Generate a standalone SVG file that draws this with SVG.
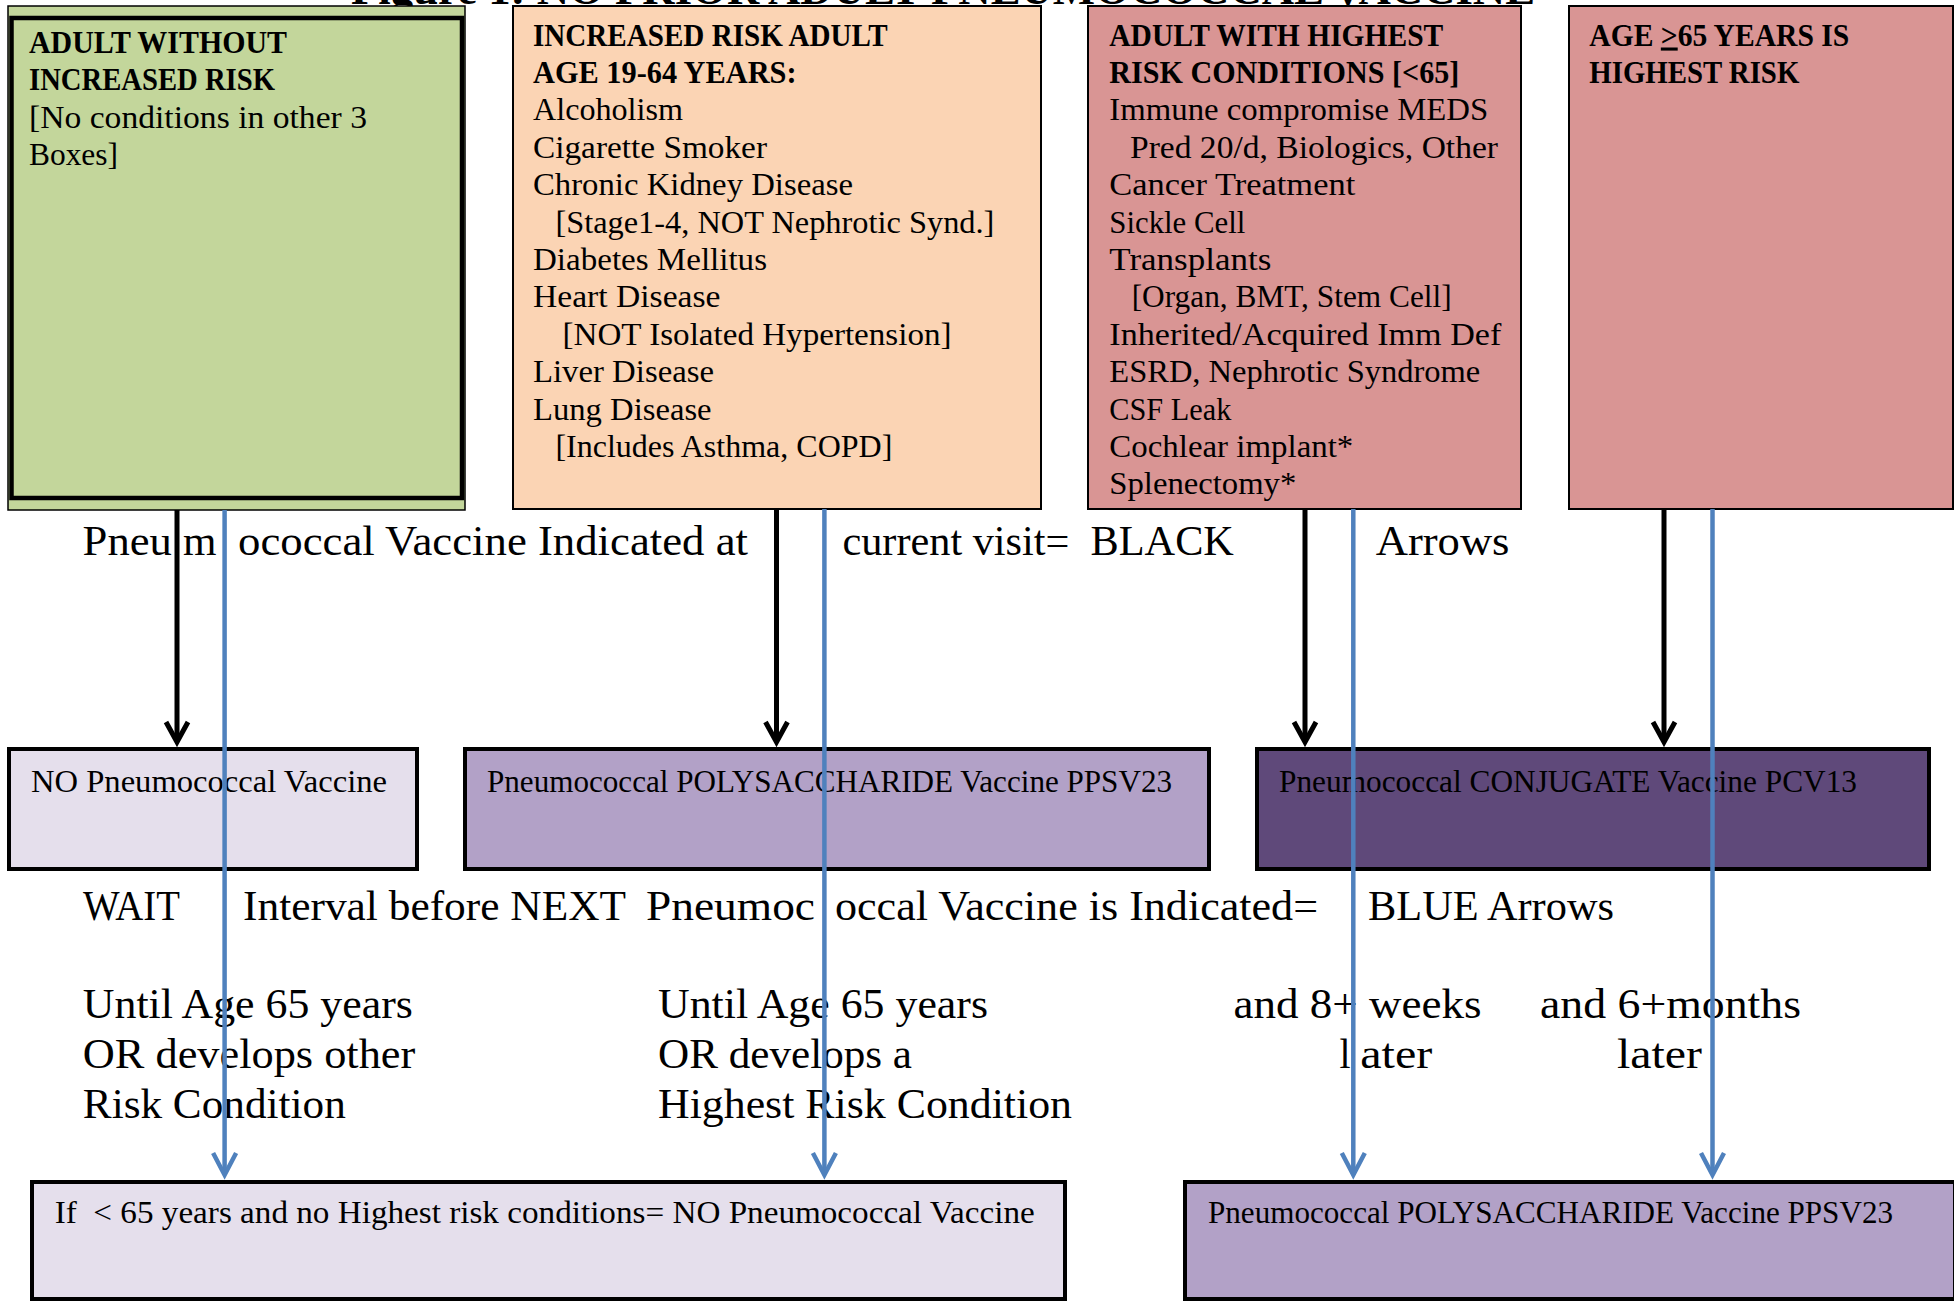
<svg xmlns="http://www.w3.org/2000/svg" width="1954" height="1302" viewBox="0 0 1954 1302">
<style>
  text { font-family: "Liberation Serif", "DejaVu Serif", serif; fill: #000; }
  .t { font-size: 31px; }
  .h { font-size: 31px; font-weight: bold; }
  .lg { font-size: 43px; }
  .ttl { font-size: 44px; font-weight: bold; }
  .pre { white-space: pre; }
  .thin { stroke: #000; stroke-width: 2; }
  .thick { stroke: #000; stroke-width: 4; }
  .blk { stroke: #000; stroke-width: 5; fill: none; }
  .blu { stroke: #4F81BD; stroke-width: 4.5; fill: none; }
</style>
<defs>
  <marker id="ahK" markerUnits="userSpaceOnUse" viewBox="-26 -15 32 30" markerWidth="32" markerHeight="30" refX="0" refY="0" orient="auto">
    <path d="M-20,-11 L0,0 L-20,11" fill="none" stroke="#000" stroke-width="5"/>
  </marker>
  <marker id="ahB" markerUnits="userSpaceOnUse" viewBox="-28 -15 34 30" markerWidth="34" markerHeight="30" refX="0" refY="0" orient="auto">
    <path d="M-22,-11.5 L0,0 L-22,11.5" fill="none" stroke="#4F81BD" stroke-width="4.5"/>
  </marker>
</defs>
<rect x="0" y="0" width="1954" height="1302" fill="#fff"/>

<text class="ttl" x="351" y="4" textLength="1184" lengthAdjust="spacingAndGlyphs">Figure 1: NO PRIOR ADULT PNEUMOCOCCAL VACCINE</text>

<g id="node-adult-without-risk">
  <rect x="8" y="6" width="457" height="504" fill="#C3D69B" stroke="#000" stroke-width="1.5"/>
  <rect x="11.5" y="18" width="450.5" height="480" fill="none" stroke="#000" stroke-width="4.5"/>
  <text class="h" x="29" y="53.3" textLength="258" lengthAdjust="spacingAndGlyphs">ADULT WITHOUT</text>
  <text class="h" x="29" y="90.3" textLength="246" lengthAdjust="spacingAndGlyphs">INCREASED RISK</text>
  <text class="t" x="29" y="127.5" textLength="338" lengthAdjust="spacingAndGlyphs">[No conditions in other 3</text>
  <text class="t" x="29" y="164.5" textLength="89" lengthAdjust="spacingAndGlyphs">Boxes]</text>
</g>

<g id="node-increased-risk">
  <rect x="513" y="6" width="528" height="503" fill="#FBD4B4" class="thin"/>
  <text class="h" x="533" y="45.5" textLength="354.6" lengthAdjust="spacingAndGlyphs">INCREASED RISK ADULT</text>
  <text class="h" x="533" y="82.9" textLength="263.6" lengthAdjust="spacingAndGlyphs">AGE 19-64 YEARS:</text>
  <text class="t" x="533" y="120.3" textLength="150" lengthAdjust="spacingAndGlyphs">Alcoholism</text>
  <text class="t" x="533" y="157.7" textLength="234" lengthAdjust="spacingAndGlyphs">Cigarette Smoker</text>
  <text class="t" x="533" y="195.1" textLength="320" lengthAdjust="spacingAndGlyphs">Chronic Kidney Disease</text>
  <text class="t" x="555.4" y="232.5" textLength="439" lengthAdjust="spacingAndGlyphs">[Stage1-4, NOT Nephrotic Synd.]</text>
  <text class="t" x="533" y="269.9" textLength="234" lengthAdjust="spacingAndGlyphs">Diabetes Mellitus</text>
  <text class="t" x="533" y="307.3" textLength="187.5" lengthAdjust="spacingAndGlyphs">Heart Disease</text>
  <text class="t" x="562.5" y="344.7" textLength="389" lengthAdjust="spacingAndGlyphs">[NOT Isolated Hypertension]</text>
  <text class="t" x="533" y="382.1" textLength="181" lengthAdjust="spacingAndGlyphs">Liver Disease</text>
  <text class="t" x="533" y="419.5" textLength="178.6" lengthAdjust="spacingAndGlyphs">Lung Disease</text>
  <text class="t" x="555.4" y="456.9" textLength="337" lengthAdjust="spacingAndGlyphs">[Includes Asthma, COPD]</text>
</g>

<g id="node-highest-risk">
  <rect x="1088" y="6" width="433" height="503" fill="#D99594" class="thin"/>
  <text class="h" x="1109.3" y="45.5" textLength="334" lengthAdjust="spacingAndGlyphs">ADULT WITH HIGHEST</text>
  <text class="h" x="1109.3" y="82.9" textLength="350" lengthAdjust="spacingAndGlyphs">RISK CONDITIONS [&lt;65]</text>
  <text class="t" x="1109.3" y="120.3" textLength="379" lengthAdjust="spacingAndGlyphs">Immune compromise MEDS</text>
  <text class="t" x="1130" y="157.7" textLength="368" lengthAdjust="spacingAndGlyphs">Pred 20/d, Biologics, Other</text>
  <text class="t" x="1109.3" y="195.1" textLength="246" lengthAdjust="spacingAndGlyphs">Cancer Treatment</text>
  <text class="t" x="1109.3" y="232.5" textLength="136" lengthAdjust="spacingAndGlyphs">Sickle Cell</text>
  <text class="t" x="1109.3" y="269.9" textLength="162" lengthAdjust="spacingAndGlyphs">Transplants</text>
  <text class="t" x="1131.7" y="307.3" textLength="320" lengthAdjust="spacingAndGlyphs">[Organ, BMT, Stem Cell]</text>
  <text class="t" x="1109.3" y="344.7" textLength="392" lengthAdjust="spacingAndGlyphs">Inherited/Acquired Imm Def</text>
  <text class="t" x="1109.3" y="382.1" textLength="371" lengthAdjust="spacingAndGlyphs">ESRD, Nephrotic Syndrome</text>
  <text class="t" x="1109.3" y="419.5" textLength="122" lengthAdjust="spacingAndGlyphs">CSF Leak</text>
  <text class="t" x="1109.3" y="456.9" textLength="244" lengthAdjust="spacingAndGlyphs">Cochlear implant*</text>
  <text class="t" x="1109.3" y="494.3" textLength="187" lengthAdjust="spacingAndGlyphs">Splenectomy*</text>
</g>

<g id="node-age-65">
  <rect x="1569" y="6" width="384" height="503" fill="#D99594" class="thin"/>
  <text class="h" x="1589.3" y="45.5" textLength="260" lengthAdjust="spacingAndGlyphs">AGE <tspan text-decoration="underline">&gt;</tspan>65 YEARS IS</text>
  <text class="h" x="1589.3" y="82.9" textLength="210" lengthAdjust="spacingAndGlyphs">HIGHEST RISK</text>
</g>

<g id="node-no-vaccine">
  <rect x="9" y="749" width="408" height="120" fill="#E5DFEC" class="thick"/>
  <text class="t" x="31" y="791.7" textLength="356" lengthAdjust="spacingAndGlyphs">NO Pneumococcal Vaccine</text>
</g>

<g id="node-ppsv23-first">
  <rect x="465" y="749" width="744" height="120" fill="#B2A1C7" class="thick"/>
  <text class="t" x="487" y="791.7" textLength="685" lengthAdjust="spacingAndGlyphs">Pneumococcal POLYSACCHARIDE Vaccine PPSV23</text>
</g>

<g id="node-pcv13">
  <rect x="1257" y="749" width="672" height="120" fill="#5F497A" class="thick"/>
  <text class="t" x="1279" y="791.7" textLength="578" lengthAdjust="spacingAndGlyphs">Pneumococcal CONJUGATE Vaccine PCV13</text>
</g>

<g id="node-no-vaccine-later">
  <rect x="32" y="1182" width="1033" height="117" fill="#E5DFEC" class="thick"/>
  <text class="t pre" x="54.7" y="1223.3" textLength="980" lengthAdjust="spacingAndGlyphs">If  &lt; 65 years and no Highest risk conditions= NO Pneumococcal Vaccine</text>
</g>

<g id="node-ppsv23-later">
  <rect x="1185" y="1182" width="770" height="117" fill="#B2A1C7" class="thick"/>
  <text class="t" x="1208" y="1223.3" textLength="685" lengthAdjust="spacingAndGlyphs">Pneumococcal POLYSACCHARIDE Vaccine PPSV23</text>
</g>

<g id="labels">
  <text class="lg" x="82.6" y="555" textLength="89.3" lengthAdjust="spacingAndGlyphs">Pneu</text>
  <text class="lg" x="183" y="555" textLength="33.5" lengthAdjust="spacingAndGlyphs">m</text>
  <text class="lg" x="238" y="555" textLength="510" lengthAdjust="spacingAndGlyphs">ococcal Vaccine Indicated at</text>
  <text class="lg pre" x="842.4" y="555" textLength="391.5" lengthAdjust="spacingAndGlyphs">current visit=  BLACK</text>
  <text class="lg" x="1375.7" y="555" textLength="133.8" lengthAdjust="spacingAndGlyphs">Arrows</text>

  <text class="lg" x="83" y="920" textLength="97" lengthAdjust="spacingAndGlyphs">WAIT</text>
  <text class="lg" x="243" y="920" textLength="383" lengthAdjust="spacingAndGlyphs">Interval before NEXT</text>
  <text class="lg" x="646" y="920" textLength="169" lengthAdjust="spacingAndGlyphs">Pneumoc</text>
  <text class="lg" x="835" y="920" textLength="483" lengthAdjust="spacingAndGlyphs">occal Vaccine is Indicated=</text>
  <text class="lg" x="1368" y="920" textLength="246" lengthAdjust="spacingAndGlyphs">BLUE Arrows</text>

  <text class="lg" x="82.8" y="1018.3" textLength="330" lengthAdjust="spacingAndGlyphs">Until Age 65 years</text>
  <text class="lg" x="82.8" y="1068.3" textLength="332.5" lengthAdjust="spacingAndGlyphs">OR develops other</text>
  <text class="lg" x="82.8" y="1118.3" textLength="263" lengthAdjust="spacingAndGlyphs">Risk Condition</text>

  <text class="lg" x="658" y="1018.3" textLength="330" lengthAdjust="spacingAndGlyphs">Until Age 65 years</text>
  <text class="lg" x="658" y="1068.3" textLength="254" lengthAdjust="spacingAndGlyphs">OR develops a</text>
  <text class="lg" x="658" y="1118.3" textLength="414" lengthAdjust="spacingAndGlyphs">Highest Risk Condition</text>

  <text class="lg" x="1233.5" y="1018.3" textLength="248" lengthAdjust="spacingAndGlyphs">and 8+ weeks</text>
  <text class="lg" x="1339.6" y="1068.3" textLength="11" lengthAdjust="spacingAndGlyphs">l</text>
  <text class="lg" x="1360.3" y="1068.3" textLength="72" lengthAdjust="spacingAndGlyphs">ater</text>

  <text class="lg" x="1540" y="1018.3" textLength="261" lengthAdjust="spacingAndGlyphs">and 6+months</text>
  <text class="lg" x="1617" y="1068.3" textLength="85" lengthAdjust="spacingAndGlyphs">later</text>
</g>

<g id="connectors">
  <line class="blk" x1="177" y1="510" x2="177" y2="742" marker-end="url(#ahK)"/>
  <line class="blk" x1="776.5" y1="509" x2="776.5" y2="742" marker-end="url(#ahK)"/>
  <line class="blk" x1="1305" y1="509" x2="1305" y2="742" marker-end="url(#ahK)"/>
  <line class="blk" x1="1664" y1="509" x2="1664" y2="742" marker-end="url(#ahK)"/>
  <line class="blu" x1="224.6" y1="510" x2="224.6" y2="1175" marker-end="url(#ahB)"/>
  <line class="blu" x1="824.4" y1="509" x2="824.4" y2="1175" marker-end="url(#ahB)"/>
  <line class="blu" x1="1353.3" y1="509" x2="1353.3" y2="1175" marker-end="url(#ahB)"/>
  <line class="blu" x1="1712.5" y1="509" x2="1712.5" y2="1175" marker-end="url(#ahB)"/>
</g>
</svg>
